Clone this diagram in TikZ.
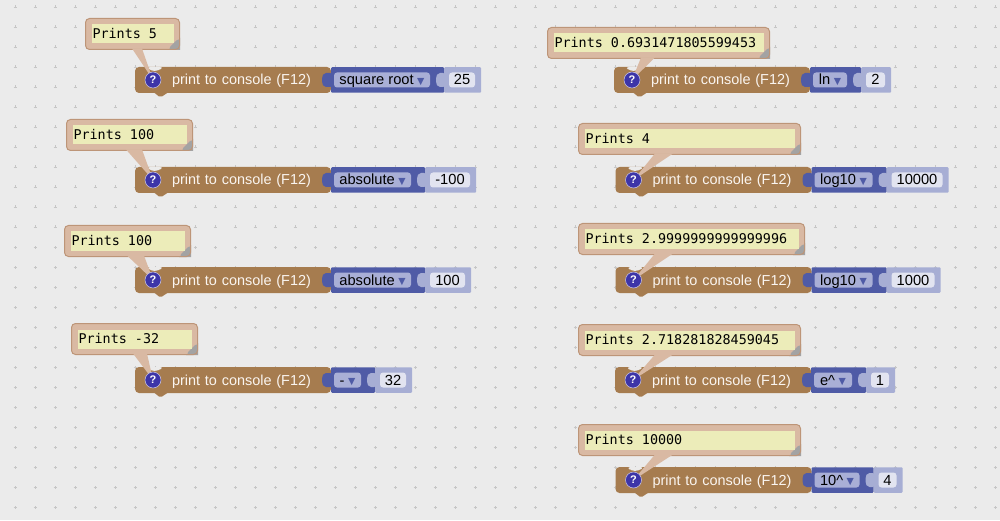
\documentclass[tikz,border=0pt]{standalone}
\usepackage{fontspec}
\setmainfont{Liberation Sans}
\newfontfamily\bubblefont{DejaVu Sans Mono}
\newfontfamily\arrowfont{DejaVu Sans}
\usetikzlibrary{positioning}
\definecolor{pagebg}{HTML}{EBEBEB}
\definecolor{griddot}{HTML}{C6C6C6}
\definecolor{brownblock}{HTML}{A67C4F}
\definecolor{opblue}{HTML}{4F5BA6}
\definecolor{opfieldbg}{HTML}{A9AFD6}
\definecolor{valblue}{HTML}{A7AED4}
\definecolor{valfieldbg}{HTML}{E2E4F0}
\definecolor{bubbleface}{HTML}{D9B9A3}
\definecolor{bubbleedge}{HTML}{BD9578}
\definecolor{bubblefield}{HTML}{ECECB9}
\definecolor{helpblue}{HTML}{3D35A8}
\newcommand{\dropmark}{\hspace{3.5pt}\raisebox{0.5pt}{\arrowfont\fontsize{9.5}{9.5}\selectfont\textcolor{opblue}{▼}}}
\tikzset{
  every node/.style={outer sep=0pt},
  brownrow/.style={fill=brownblock, rounded corners=4pt, minimum height=26pt, text width=196pt,
    inner sep=0pt, align=left, text=white!92!brown, font=\fontsize{14.45}{15}\selectfont,
    text height=13pt, text depth=3pt,
    path picture={\fill[pagebg] (path picture bounding box.north west) ++(11,0) -- ++(5,-4) -- ++(7,0) -- ++(6,4) -- cycle;},
    append after command={\pgfextra{
      \fill[brownblock] (\tikzlastnode.south west) ++(11,0.5) -- ++(8,0) -- ++(5,-4) -- ++(3,0) -- ++(6,4) -- cycle;}}},
  opblock/.style={fill=opblue, minimum height=25.5pt, inner sep=0pt, rounded corners=1pt,
    append after command={\pgfextra{
      \fill[opblue, rounded corners=2pt] (\tikzlastnode.west) ++(1,-7) -- ++(-8,0) -- ++(-2,3.5) -- ++(0,7) -- ++(2,3.5) -- ++(8,0) -- cycle;}}},
  valblock/.style={fill=valblue, minimum height=25.5pt, inner sep=0pt, rounded corners=1pt,
    append after command={\pgfextra{
      \fill[valblue, rounded corners=2pt] (\tikzlastnode.west) ++(1,-7) -- ++(-7,0) -- ++(-2,3.5) -- ++(0,7) -- ++(2,3.5) -- ++(7,0) -- cycle;}}},
  opfield/.style={fill=opfieldbg, rounded corners=3pt, minimum height=15pt, inner sep=0pt,
    text height=12.5pt, text depth=2.5pt, text=black, font=\fontsize{14.67}{15}\selectfont, xshift=-5.5pt},
  valfield/.style={fill=valfieldbg, rounded corners=3pt, minimum height=15pt, inner sep=0pt,
    text height=12.5pt, text depth=2.5pt, text=black, font=\fontsize{14.67}{15}\selectfont, xshift=-0.5pt},
  bubble/.style={fill=bubbleface, draw=bubbleedge, line width=1pt, rounded corners=4pt,
    minimum height=31pt, inner sep=0pt, outer sep=0.5pt,
    path picture={\fill[gray!72] (path picture bounding box.south east) -- ++(-12,0) -- ++(12,12) -- cycle;},
    append after command={\pgfextra{
      \fill[gray!72] (\tikzlastnode.south east) -- ++(-12,0) -- ++(12,12) -- cycle;}}},
  bubbletext/.style={fill=bubblefield, minimum height=19pt, inner xsep=1pt, inner ysep=0pt, text=black,
    font=\bubblefont\fontsize{13.4}{13.4}\selectfont, align=left, execute at begin node={\spaceskip=8.07pt\relax}},
  bubbletail/.style={fill=bubbleface},
  helpmark/.style={circle, fill=helpblue, draw=white!75!helpblue, line width=0.5pt, minimum size=16pt,
    inner sep=0pt, text=white, font=\bfseries\fontsize{11}{11}\selectfont},
}
\begin{document}
\begin{tikzpicture}[x=1pt, y=1pt]
  \fill[pagebg] (0,0) rectangle (1000,520);
  \useasboundingbox (0,0) rectangle (1000,520);
  \foreach \x in {15,35,...,995} \foreach \y in {13,33,...,513}
    \draw[griddot, line width=0.6pt] (\x-1.5,\y) -- (\x+1.5,\y) (\x,\y-1.5) -- (\x,\y+1.5);
  % left column
  \node[brownrow, anchor=west] (A1) at (135,440) {\hspace*{37pt}print to console (F12)};
  \node[bubble, minimum width=94pt, above right=17pt and -50pt of A1.north west] (AB1) {};
  \node[bubbletext, text width=80pt] (AT1) at (AB1) {Prints 5};
  \fill[bubbletail] ([xshift=47pt, yshift=1.5pt]AB1.south west) -- ([xshift=18pt]A1.west) -- ([xshift=57pt, yshift=1.5pt]AB1.south west) -- cycle;
  \node[helpmark, right=10pt of A1.west] (AQ1) {?};
  \node[opblock, minimum width=113pt, right=0pt of A1, label={[opfield, minimum width=96pt]center:square root\dropmark}] (AO1) {};
  \node[valblock, minimum width=37pt, right=0pt of AO1, label={[valfield, minimum width=26pt]center:25}] (AV1) {};

  \node[brownrow, below=74pt of A1] (A2) {\hspace*{37pt}print to console (F12)};
  \node[bubble, minimum width=126pt, above right=16pt and -69pt of A2.north west] (AB2) {};
  \node[bubbletext, text width=112pt] (AT2) at (AB2) {Prints 100};
  \fill[bubbletail] ([xshift=60pt, yshift=1.5pt]AB2.south west) -- ([xshift=18pt]A2.west) -- ([xshift=76pt, yshift=1.5pt]AB2.south west) -- cycle;
  \node[helpmark, right=10pt of A2.west] (AQ2) {?};
  \node[opblock, minimum width=94pt, right=0pt of A2, label={[opfield, minimum width=77pt]center:absolute\dropmark}] (AO2) {};
  \node[valblock, minimum width=51pt, right=0pt of AO2, label={[valfield, minimum width=40pt]center:-100}] (AV2) {};

  \node[brownrow, below=74pt of A2] (A3) {\hspace*{37pt}print to console (F12)};
  \node[bubble, minimum width=126pt, above right=10pt and -71pt of A3.north west] (AB3) {};
  \node[bubbletext, text width=112pt] (AT3) at (AB3) {Prints 100};
  \fill[bubbletail] ([xshift=63pt, yshift=1.5pt]AB3.south west) -- ([xshift=18pt]A3.west) -- ([xshift=80pt, yshift=1.5pt]AB3.south west) -- cycle;
  \node[helpmark, right=10pt of A3.west] (AQ3) {?};
  \node[opblock, minimum width=94pt, right=0pt of A3, label={[opfield, minimum width=77pt]center:absolute\dropmark}] (AO3) {};
  \node[valblock, minimum width=46pt, right=0pt of AO3, label={[valfield, minimum width=35pt]center:100}] (AV3) {};

  \node[brownrow, below=74pt of A3] (A4) {\hspace*{37pt}print to console (F12)};
  \node[bubble, minimum width=126pt, above right=12pt and -64pt of A4.north west] (AB4) {};
  \node[bubbletext, text width=112pt] (AT4) at (AB4) {Prints -32};
  \fill[bubbletail] ([xshift=62pt, yshift=1.5pt]AB4.south west) -- ([xshift=18pt]A4.west) -- ([xshift=76pt, yshift=1.5pt]AB4.south west) -- cycle;
  \node[helpmark, right=10pt of A4.west] (AQ4) {?};
  \node[opblock, minimum width=44pt, right=0pt of A4, label={[opfield, minimum width=27pt]center:-\dropmark}] (AO4) {};
  \node[valblock, minimum width=37pt, right=0pt of AO4, label={[valfield, minimum width=26pt]center:32}] (AV4) {};

  % right column
  \node[brownrow, anchor=west] (B1) at (614,440) {\hspace*{37pt}print to console (F12)};
  \node[bubble, minimum width=222pt, above right=8pt and -67pt of B1.north west] (BB1) {};
  \node[bubbletext, text width=208pt] (BT1) at (BB1) {Prints 0.6931471805599453};
  \fill[bubbletail] ([xshift=94pt, yshift=1.5pt]BB1.south west) -- ([xshift=18pt]B1.west) -- ([xshift=108pt, yshift=1.5pt]BB1.south west) -- cycle;
  \node[helpmark, right=10pt of B1.west] (BQ1) {?};
  \node[opblock, minimum width=51pt, right=0pt of B1, label={[opfield, minimum width=34pt]center:ln\dropmark}] (BO1) {};
  \node[valblock, minimum width=30pt, right=0pt of BO1, label={[valfield, minimum width=19pt]center:2}] (BV1) {};

  \node[brownrow, below=74pt of B1, xshift=1.5pt] (B2) {\hspace*{37pt}print to console (F12)};
  \node[bubble, minimum width=222pt, above right=12pt and -37.5pt of B2.north west] (BB2) {};
  \node[bubbletext, text width=208pt] (BT2) at (BB2) {Prints 4};
  \fill[bubbletail] ([xshift=77pt, yshift=1.5pt]BB2.south west) -- ([xshift=18pt]B2.west) -- ([xshift=95pt, yshift=1.5pt]BB2.south west) -- cycle;
  \node[helpmark, right=10pt of B2.west] (BQ2) {?};
  \node[opblock, minimum width=75pt, right=0pt of B2, label={[opfield, minimum width=58pt]center:log10\dropmark}] (BO2) {};
  \node[valblock, minimum width=62pt, right=0pt of BO2, label={[valfield, minimum width=51pt]center:10000}] (BV2) {};

  \node[brownrow, below=74pt of B2] (B3) {\hspace*{37pt}print to console (F12)};
  \node[bubble, minimum width=226pt, above right=12pt and -37.5pt of B3.north west] (BB3) {};
  \node[bubbletext, text width=212pt] (BT3) at (BB3) {Prints 2.9999999999999996};
  \fill[bubbletail] ([xshift=77pt, yshift=1.5pt]BB3.south west) -- ([xshift=18pt]B3.west) -- ([xshift=95pt, yshift=1.5pt]BB3.south west) -- cycle;
  \node[helpmark, right=10pt of B3.west] (BQ3) {?};
  \node[opblock, minimum width=75pt, right=0pt of B3, label={[opfield, minimum width=58pt]center:log10\dropmark}] (BO3) {};
  \node[valblock, minimum width=54pt, right=0pt of BO3, label={[valfield, minimum width=43pt]center:1000}] (BV3) {};

  \node[brownrow, below=74pt of B3, xshift=-0.5pt] (B4) {\hspace*{37pt}print to console (F12)};
  \node[bubble, minimum width=222pt, above right=11pt and -37pt of B4.north west] (BB4) {};
  \node[bubbletext, text width=208pt] (BT4) at (BB4) {Prints 2.718281828459045};
  \fill[bubbletail] ([xshift=77pt, yshift=1.5pt]BB4.south west) -- ([xshift=18pt]B4.west) -- ([xshift=95pt, yshift=1.5pt]BB4.south west) -- cycle;
  \node[helpmark, right=10pt of B4.west] (BQ4) {?};
  \node[opblock, minimum width=55pt, right=0pt of B4, label={[opfield, minimum width=38pt]center:e\textasciicircum\dropmark}] (BO4) {};
  \node[valblock, minimum width=29pt, right=0pt of BO4, label={[valfield, minimum width=18pt]center:1}] (BV4) {};

  \node[brownrow, below=74pt of B4, xshift=0.5pt] (B5) {\hspace*{37pt}print to console (F12)};
  \node[bubble, minimum width=222pt, above right=11pt and -37.5pt of B5.north west] (BB5) {};
  \node[bubbletext, text width=208pt] (BT5) at (BB5) {Prints 10000};
  \fill[bubbletail] ([xshift=77pt, yshift=1.5pt]BB5.south west) -- ([xshift=18pt]B5.west) -- ([xshift=95pt, yshift=1.5pt]BB5.south west) -- cycle;
  \node[helpmark, right=10pt of B5.west] (BQ5) {?};
  \node[opblock, minimum width=62pt, right=0pt of B5, label={[opfield, minimum width=45pt]center:10\textasciicircum\dropmark}] (BO5) {};
  \node[valblock, minimum width=29pt, right=0pt of BO5, label={[valfield, minimum width=18pt]center:4}] (BV5) {};
\end{tikzpicture}
\end{document}
